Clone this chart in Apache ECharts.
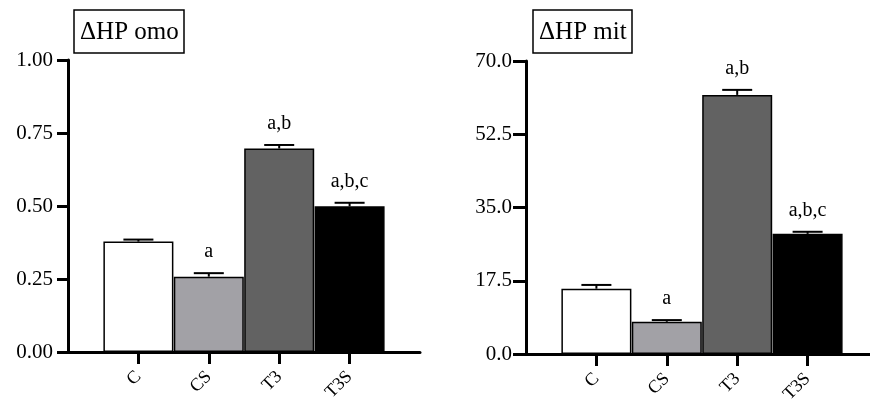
<!DOCTYPE html>
<html>
<head>
<meta charset="utf-8">
<script src="https://cdn.jsdelivr.net/npm/echarts@6/dist/echarts.min.js"></script>
<style>
  html, body { margin: 0; padding: 0; background: #fff; }
  #main { width: 870px; height: 400px; }
</style>
</head>
<body>
<div id="main"></div>
<script>
// data
const categories = ['C', 'CS', 'T3', 'T3S'];
const omoMean = [0.378, 0.258, 0.697, 0.499];
const omoSem = [0.007, 0.012, 0.012, 0.012];
const mitMean = [15.6, 7.7, 61.9, 28.7];
const mitSem = [0.9, 0.4, 1.2, 0.5];
const letters = ['', 'a', 'a,b', 'a,b,c'];
const omoTicks = ['0.00', '0.25', '0.50', '0.75', '1.00'];
const mitTicks = ['0.0', '17.5', '35.0', '52.5', '70.0'];

const barColors = ['#ffffff', '#a2a1a6', '#626262', '#000000'];
const font = 'Liberation Serif';
// empty slots at both ends so the axis runs past the bars like in the original
const axisCats = [''].concat(categories, [' ']);

function xAxis(idx) {
  return {
    type: 'category', gridIndex: idx, data: axisCats, boundaryGap: false,
    axisLine: { lineStyle: { color: '#000', width: 3 } },
    axisTick: { length: 12, interval: (i) => i > 0 && i < axisCats.length - 1, lineStyle: { color: '#000', width: 3 } },
    axisLabel: { interval: 0, rotate: 45, margin: 22, color: '#000', fontFamily: font, fontSize: 18 },
    splitLine: { show: false }
  };
}

function yAxis(idx, max, step, ticks, margin, tickLen) {
  return {
    type: 'value', gridIndex: idx, min: 0, max: max, interval: step,
    axisLine: { show: true, lineStyle: { color: '#000', width: 3 } },
    axisTick: { show: true, length: tickLen, lineStyle: { color: '#000', width: 3 } },
    axisLabel: { margin: margin, color: '#000', fontFamily: font, fontSize: 21,
      formatter: (v) => ticks[Math.round(v / step)] },
    splitLine: { show: false }
  };
}

function barSeries(idx, means) {
  return {
    type: 'bar', xAxisIndex: idx, yAxisIndex: idx, barWidth: 70,
    data: categories.map((c, i) => ({
      value: [c, means[i]],
      itemStyle: { color: barColors[i], borderColor: '#000', borderWidth: 1.5 }
    }))
  };
}

function errorSeries(idx, means, sems) {
  return {
    type: 'custom', xAxisIndex: idx, yAxisIndex: idx, z: 5,
    data: categories.map((c, i) => [c, means[i], means[i] + sems[i]]),
    renderItem: (params, api) => {
      const base = api.coord([api.value(0), api.value(1)]);
      const top = api.coord([api.value(0), api.value(2)]);
      const x = base[0];
      return {
        type: 'group',
        children: [
          { type: 'line', shape: { x1: x, y1: base[1], x2: x, y2: top[1] }, style: { stroke: '#000', lineWidth: 2 } },
          { type: 'line', shape: { x1: x - 15, y1: top[1], x2: x + 15, y2: top[1] }, style: { stroke: '#000', lineWidth: 2 } },
          { type: 'text', x: x, y: top[1] - 21,
            style: { text: letters[params.dataIndex], fill: '#000', font: '20px "' + font + '"', align: 'center', verticalAlign: 'middle' } }
        ]
      };
    }
  };
}

function titleBox(text, left) {
  return {
    text: text, left: left, top: 10, padding: [10, 6, 8, 6],
    borderColor: '#000', borderWidth: 1.5,
    textStyle: { color: '#000', fontFamily: font, fontSize: 25, fontWeight: 'normal' }
  };
}

const chart = echarts.init(document.getElementById('main'));
chart.setOption({
  animation: false,
  backgroundColor: '#fff',
  title: [titleBox('ΔHP omo', 74), titleBox('ΔHP mit', 533)],
  grid: [
    { left: 68, top: 60, width: 352, height: 292, outerBoundsMode: 'none' },
    { left: 526, top: 61, width: 352, height: 293, outerBoundsMode: 'none' }
  ],
  xAxis: [xAxis(0), xAxis(1)],
  yAxis: [yAxis(0, 1, 0.25, omoTicks, 15, 11), yAxis(1, 70, 17.5, mitTicks, 14, 13)],
  series: [
    barSeries(0, omoMean), errorSeries(0, omoMean, omoSem),
    barSeries(1, mitMean), errorSeries(1, mitMean, mitSem)
  ]
});
</script>
</body>
</html>
